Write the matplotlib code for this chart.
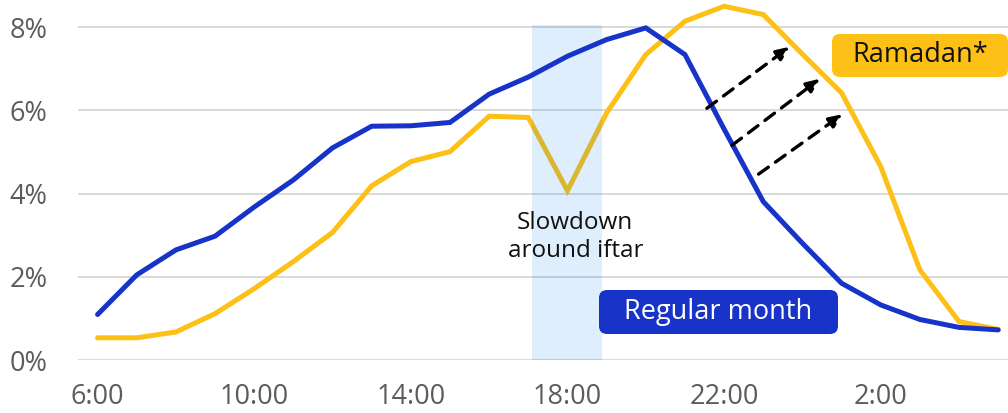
import matplotlib
matplotlib.use("Agg")
import matplotlib.pyplot as plt
from matplotlib.patches import FancyBboxPatch

plt.rcParams['font.family'] = ['Open Sans', 'DejaVu Sans']

hours = ["6:00", "7:00", "8:00", "9:00", "10:00", "11:00", "12:00", "13:00",
         "14:00", "15:00", "16:00", "17:00", "18:00", "19:00", "20:00", "21:00",
         "22:00", "23:00", "0:00", "1:00", "2:00", "3:00", "4:00", "5:00"]
regular = [1.10, 2.05, 2.65, 2.98, 3.68, 4.33, 5.10, 5.62, 5.63, 5.71, 6.39, 6.80,
           7.30, 7.70, 7.98, 7.34, 5.55, 3.81, 2.81, 1.85, 1.33, 0.98, 0.79, 0.73]
ramadan = [0.54, 0.54, 0.68, 1.12, 1.72, 2.37, 3.07, 4.19, 4.77, 5.01, 5.86, 5.83,
           4.07, 5.94, 7.34, 8.14, 8.50, 8.30, 7.35, 6.42, 4.65, 2.17, 0.93, 0.74]
yticks = [0, 2, 4, 6, 8]
xtick_labels = ["6:00", "10:00", "14:00", "18:00", "22:00", "2:00"]

BLUE = "#1733c8"
YELLOW = "#fcc016"
GRAY = "#5c5c5c"

fig = plt.figure(figsize=(10.08, 4.13), dpi=100)
ax = fig.add_axes([78/1008, (413-360.3)/413, 1-78/1008, 360.3/413])
x = list(range(len(hours)))

ax.set_xlim(-0.5, 23.25)
ax.set_ylim(0, 8.65)
for s in ax.spines.values():
    s.set_visible(False)

for yv in yticks:
    ax.axhline(yv, color="#d9d9d9", lw=1.4, zorder=0)
ax.set_yticks(yticks)
ax.set_yticklabels([f"{v}%" for v in yticks], fontsize=19.5, color=GRAY)
ax.tick_params(axis='y', length=0, pad=22)
for lab in ax.get_yticklabels():
    lab.set_horizontalalignment('right')
ax.set_xticks([0, 4, 8, 12, 16, 20])
ax.set_xticklabels(xtick_labels, fontsize=19.5, color=GRAY)
ax.tick_params(axis='x', length=0, pad=16)

ax.plot(x, ramadan, color=YELLOW, lw=3.6, zorder=3, clip_on=False,
        solid_joinstyle='miter', solid_capstyle='round')
ax.axvspan(11.1, 12.87, ymin=0, ymax=8.05/8.65, color="#007ce8", alpha=0.13,
           lw=0, zorder=3.5)
ax.plot(x, regular, color=BLUE, lw=3.6, zorder=4, clip_on=False,
        solid_joinstyle='miter', solid_capstyle='round')

ax.text(12.2, 2.96, "Slowdown\naround iftar", ha="center", va="center",
        fontsize=17.5, color="#111111", linespacing=1.2, zorder=6)

# arrows
arrows = [((15.56, 6.05), (17.68, 7.53)),
          ((16.20, 5.16), (18.45, 6.76)),
          ((16.88, 4.47), (19.03, 5.91))]
for (x0, y0), (x1, y1) in arrows:
    ax.annotate("", xy=(x1, y1), xytext=(x0, y0),
                arrowprops=dict(arrowstyle="-|>,head_length=0.8,head_width=0.35",
                                color="black", lw=2.4, linestyle=(0, (3.6, 2.6)),
                                shrinkA=0, shrinkB=0),
                zorder=7)

# label boxes
def label_box(text, xc, yc, w, h, fc, tc, fs):
    x0 = xc - w/2
    y0 = yc - h/2
    box = FancyBboxPatch((x0/1008, 1 - (y0+h)/413), w/1008, h/413,
                         boxstyle="round,pad=0,rounding_size=0.008",
                         transform=fig.transFigure, fc=fc, ec="none",
                         mutation_aspect=1008/413, zorder=8)
    fig.add_artist(box)
    fig.text(xc/1008, 1 - yc/413, text, ha="center", va="center",
             fontsize=fs, color=tc, zorder=9)

label_box("Regular month", 718.5, 312, 239, 44, BLUE, "white", 19.5)
label_box("Ramadan*", 920, 55.5, 176, 43, YELLOW, "#111111", 19.5)

fig.savefig("out.png", dpi=100)
